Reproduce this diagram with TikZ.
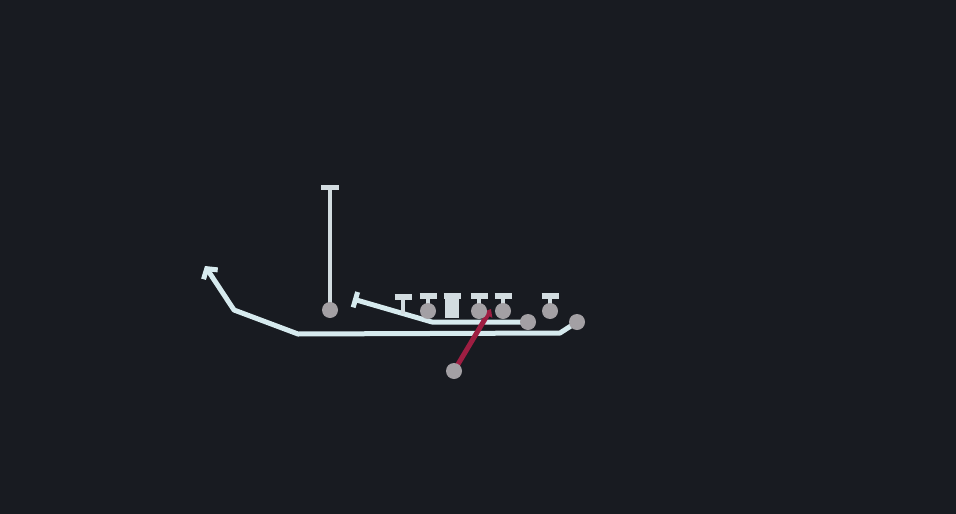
\documentclass[tikz,border=0pt]{standalone}
\usetikzlibrary{arrows.meta}
\definecolor{bgcol}{RGB}{24,27,33}
\definecolor{routecol}{RGB}{214,234,238}
\definecolor{playercol}{RGB}{163,160,164}
\definecolor{blkcol}{RGB}{210,220,224}
\definecolor{rushcol}{RGB}{158,30,66}
\pgfdeclarelayer{back}
\pgfdeclarelayer{lines}
\pgfsetlayers{back,lines,main}
\begin{document}
\begin{tikzpicture}[x=1pt,y=-1pt,
  player/.style={circle,fill=playercol,minimum size=16pt,inner sep=0pt},
  snapper/.style={rectangle,fill=blkcol,minimum width=14pt,minimum height=19pt,inner sep=0pt},
  routeline/.style={draw=routecol,line width=5pt,line join=round},
  blockline/.style={draw=blkcol,line width=4.5pt,-{Bar[width=17pt,line width=6pt]}},
  rushline/.style={draw=rushcol,line width=5pt,-{Triangle[length=7pt,width=11pt]}}]
\begin{pgfonlayer}{back}
\fill[bgcol] (0,0) rectangle (956,514);
\end{pgfonlayer}
\useasboundingbox (0,0) rectangle (956,514);
% players
\node[player] (qb) at (330,310) {};
\node[player] (lg) at (428,311) {};
\node[snapper] (c) at (452,308) {};
\node[player] (rg) at (479,311) {};
\node[player] (rt) at (503,311) {};
\node[player] (te) at (550,311) {};
\node[player] (wb) at (528,322) {};
\node[player] (wr) at (577,322) {};
\node[player] (dl) at (454,371) {};
% route points
\coordinate (qbtop) at (330,185);
\coordinate (s1) at (432,322);
\coordinate (s2) at (353,299);
\coordinate (lt) at (403,314);
\coordinate (l1) at (560,333);
\coordinate (l2) at (298,334);
\coordinate (l3) at (234,310);
\coordinate (l4) at (205,266);
\coordinate (hit) at (491,309);
\begin{pgfonlayer}{lines}
\draw[blockline,-{Bar[width=18pt,line width=5pt]}] (qb.center) -- (qbtop);
\draw[routeline,-{Bar[width=16pt,line width=5pt]}] (wb.center) -- (s1) -- (s2);
\draw[blockline] (lt) -- ++(0,-20);
\draw[blockline] (lg.center) -- ++(0,-18);
\draw[blockline] (c.center) -- ++(0,-15);
\draw[blockline] (rg.center) -- ++(0,-18);
\draw[blockline] (rt.center) -- ++(0,-18);
\draw[blockline] (te.center) -- ++(0,-18);
\draw[routeline,-{Straight Barb[length=7pt,width=17pt]}] (wr.center) -- (l1) -- (l2) -- (l3) -- (l4);
\draw[rushline] (dl.center) -- (hit);
\end{pgfonlayer}
\end{tikzpicture}
\end{document}
